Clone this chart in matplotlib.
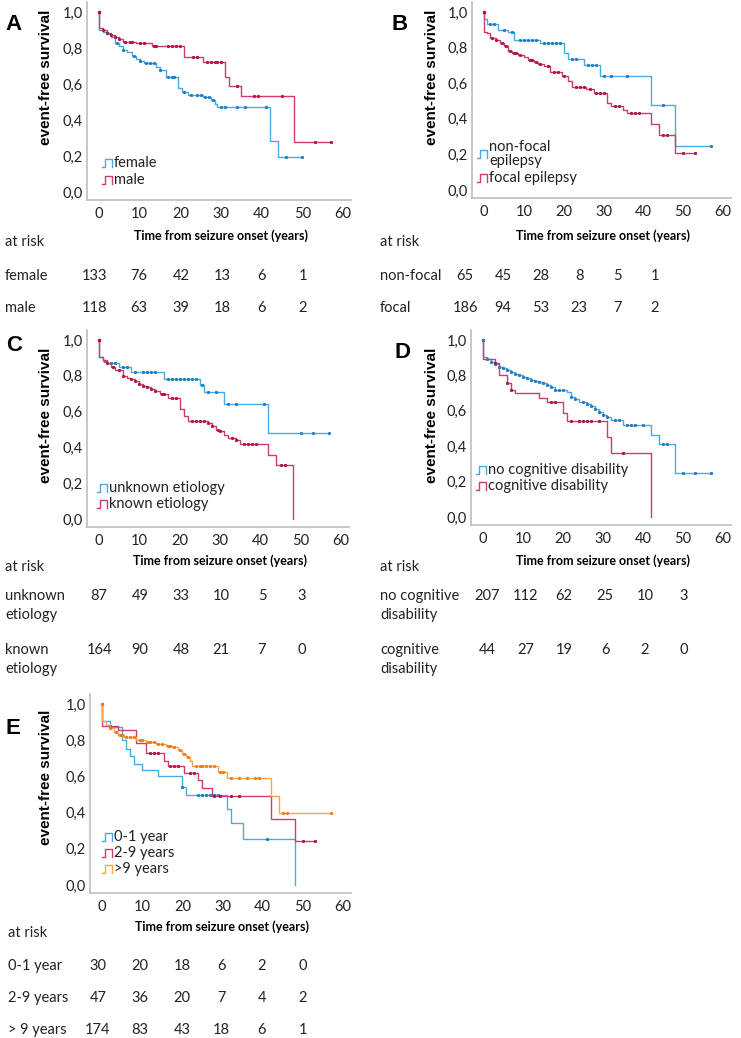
import numpy as np
import matplotlib.pyplot as plt
from matplotlib.lines import Line2D

plt.rcParams['font.family'] = ['Lato', 'DejaVu Sans']

# ---- data ----
xticks = [0, 10, 20, 30, 40, 50, 60]
yticks = [0.0, 0.2, 0.4, 0.6, 0.8, 1.0]
ytick_labels = ['0,0', '0,2', '0,4', '0,6', '0,8', '1,0']

# A: sex
a_female_t = [0, 1, 2, 3, 4, 5, 6, 7, 8, 9, 10, 11, 14, 15, 16.5, 19.5, 20.5, 22, 25.5, 27.5, 28.5, 29, 42, 44]
a_female_s = [0.90, 0.89, 0.875, 0.86, 0.83, 0.81, 0.79, 0.775, 0.755, 0.74, 0.725, 0.715, 0.695, 0.675,
              0.64, 0.58, 0.555, 0.54, 0.525, 0.51, 0.49, 0.47, 0.285, 0.195]
a_female_end = 50
a_female_cens = [4.5, 6, 8.5, 10, 11.5, 12.5, 13.5, 15, 17, 18, 18.5, 21, 22.5, 24, 25, 26, 27, 28, 30, 31,
                 34, 36, 41, 46, 50]
a_male_t = [0, 1, 2, 3, 4, 5, 6, 9, 13, 21, 25.5, 31, 32, 35, 48]
a_male_s = [0.91, 0.90, 0.885, 0.87, 0.86, 0.85, 0.835, 0.825, 0.81, 0.75, 0.72, 0.64, 0.59, 0.535, 0.275]
a_male_end = 57
a_male_cens = [1, 2, 3, 4, 5, 6.5, 7.5, 8, 10, 11, 13.5, 14, 17, 18, 19, 20, 23, 24, 26.5, 27.5, 28.5, 29,
               30, 34, 38, 39, 45, 53, 57]

# B: epilepsy type
b_nonfocal_t = [0, 0.8, 3.5, 6, 7.5, 14, 20, 21, 25, 29, 42, 48]
b_nonfocal_s = [0.96, 0.935, 0.90, 0.885, 0.845, 0.825, 0.77, 0.735, 0.70, 0.64, 0.48, 0.245]
b_nonfocal_end = 57
b_nonfocal_cens = [1.5, 2.5, 5, 7, 9, 10, 11, 12, 13, 15, 16, 17, 18, 19, 22, 23, 26, 27, 28, 30, 32, 36, 45, 57]
b_focal_t = [0, 0.7, 1.5, 3, 4, 5, 6, 7, 8.5, 10, 11, 12.5, 13.5, 15, 16.5, 19.5, 21, 22, 25.5, 27.5, 31, 32,
             35, 36, 42, 44, 48]
b_focal_s = [0.89, 0.88, 0.855, 0.845, 0.825, 0.81, 0.78, 0.77, 0.76, 0.745, 0.73, 0.72, 0.71, 0.695, 0.665,
             0.64, 0.61, 0.58, 0.565, 0.545, 0.49, 0.47, 0.45, 0.43, 0.37, 0.31, 0.21]
b_focal_end = 53
b_focal_cens = [2, 3, 4.5, 5.5, 6.5, 7.5, 8, 9, 11.5, 12, 13, 14, 16, 17.5, 18.5, 20, 23, 24, 25, 26.5, 28, 29,
                30, 33, 34, 37, 38, 39, 45, 46, 50, 53]

# C: etiology
c_unknown_t = [0, 1, 2, 5, 8, 16, 25, 26, 31, 42]
c_unknown_s = [0.905, 0.88, 0.87, 0.85, 0.82, 0.78, 0.75, 0.71, 0.645, 0.48]
c_unknown_end = 57
c_unknown_cens = [1.5, 3, 4, 6, 7, 9, 11, 12, 13, 14, 17, 18, 19, 20, 21, 22, 23, 24, 25.5, 27, 29, 32, 34,
                  41, 50, 53, 57]
c_known_t = [0, 1, 2, 3, 4, 6, 7, 8, 9, 10, 11, 12, 13, 14, 15, 17, 20, 21, 22, 27, 28, 29, 30, 31, 32, 34,
             35, 42, 44, 48]
c_known_s = [0.905, 0.89, 0.87, 0.85, 0.835, 0.80, 0.79, 0.78, 0.77, 0.755, 0.745, 0.735, 0.725, 0.715, 0.70,
             0.675, 0.615, 0.575, 0.55, 0.535, 0.52, 0.50, 0.49, 0.47, 0.455, 0.44, 0.42, 0.36, 0.30, 0.0]
c_known_end = 48
c_known_cens = [2, 3.5, 5, 6, 8, 9, 10, 11, 12, 13, 14, 15.5, 16, 18, 19, 23, 24, 25, 26, 27, 28, 29.5, 30,
                33, 34, 36, 37, 38, 39, 45, 46]

# D: cognitive disability
d_nocog_t = [0, 1, 2, 3, 4, 5, 6, 7, 8, 9, 10, 11, 12, 13, 14, 15, 16, 17, 18, 21, 22, 23, 24, 26, 27, 28,
             29, 30, 31, 32, 35, 42, 44, 48]
d_nocog_s = [0.905, 0.89, 0.875, 0.865, 0.85, 0.84, 0.83, 0.82, 0.81, 0.80, 0.79, 0.785, 0.775, 0.77, 0.76,
             0.755, 0.745, 0.735, 0.72, 0.705, 0.68, 0.665, 0.65, 0.64, 0.625, 0.61, 0.595, 0.575, 0.565,
             0.55, 0.52, 0.465, 0.415, 0.25]
d_nocog_end = 57
d_nocog_cens = [1, 2, 3, 4, 5, 6, 7, 8, 9, 10, 11, 12, 13, 14, 15, 16, 17, 18, 19, 20, 22, 23, 25, 26, 27,
                28, 29, 30, 31, 33, 34, 36, 37, 38, 40, 45, 46, 50, 53, 57]
d_cog_t = [0, 3, 4, 6, 7, 8, 14, 16, 20, 21, 31, 32, 42]
d_cog_s = [0.895, 0.87, 0.805, 0.755, 0.72, 0.70, 0.675, 0.65, 0.585, 0.545, 0.45, 0.36, 0.0]
d_cog_end = 42
d_cog_cens = [3, 6, 7, 17, 18, 22, 24, 25, 26, 27, 29, 35]

# E: age at onset
e_young_t = [0, 2, 5, 6, 7, 8, 10, 14, 20, 21, 31, 32, 35, 48]
e_young_s = [0.905, 0.875, 0.80, 0.75, 0.71, 0.67, 0.635, 0.60, 0.54, 0.50, 0.42, 0.34, 0.255, 0.0]
e_young_end = 48
e_young_cens = [20, 24, 25, 26, 27, 28, 29, 41]
e_mid_t = [0, 4, 8.5, 11, 15.5, 16.5, 20.5, 24, 25, 27.5, 42, 48]
e_mid_s = [0.88, 0.855, 0.785, 0.73, 0.685, 0.655, 0.62, 0.58, 0.535, 0.49, 0.365, 0.245]
e_mid_end = 53
e_mid_cens = [2, 12, 13, 14, 17, 18, 19, 22, 23, 28, 29.5, 32, 34, 50, 53]
e_old_t = [0, 1, 2, 3, 4, 5.5, 8.5, 11, 13.5, 16, 17.5, 19, 20, 21, 22, 22.5, 29, 31, 42, 44]
e_old_s = [0.905, 0.885, 0.865, 0.845, 0.83, 0.815, 0.80, 0.79, 0.78, 0.77, 0.76, 0.745, 0.725, 0.705,
           0.685, 0.66, 0.625, 0.59, 0.49, 0.40]
e_old_end = 57
e_old_cens = [2, 3.5, 4.5, 5, 6, 7, 8, 9.5, 10, 11.5, 12, 13, 14, 15, 16.5, 17, 18, 19.5, 20.5, 21.5, 23.5,
              24.5, 25, 26, 27, 28, 29.5, 30, 32, 34, 36, 38, 39, 45, 46, 57]

# at-risk tables
a_rows = ['female', 'male']
a_risk = [[133, 76, 42, 13, 6, 1], [118, 63, 39, 18, 6, 2]]
b_rows = ['non-focal', 'focal']
b_risk = [[65, 45, 28, 8, 5, 1], [186, 94, 53, 23, 7, 2]]
c_rows = ['unknown\netiology', 'known\netiology']
c_risk = [[87, 49, 33, 10, 5, 3], [164, 90, 48, 21, 7, 0]]
d_rows = ['no cognitive\ndisability', 'cognitive\ndisability']
d_risk = [[207, 112, 62, 25, 10, 3], [44, 27, 19, 6, 2, 0]]
e_rows = ['0-1 year', '2-9 years', '> 9 years']
e_risk = [[30, 20, 18, 6, 2, 0], [47, 36, 20, 7, 4, 2], [174, 83, 43, 18, 6, 1]]

BLUE, BLUE_M = '#4aa9e2', '#1b7cc6'
RED, RED_M = '#cf3d6a', '#b0123f'
ORANGE, ORANGE_M = '#f7a647', '#ee7b12'

W, H = 741, 1038
fig = plt.figure(figsize=(W / 100, H / 100), dpi=100)


def ftext(x, y, s, **kw):
    kw.setdefault('va', 'center')
    return fig.text(x / W, 1 - y / H, s, **kw)


def make_axes(x0, x60, y1, y0):
    # pixel positions of x=0, x=60, y=1, y=0
    xs = (x60 - x0) / 60
    ys = y0 - y1
    left, right = x0 - 3 * xs, x0 + 62 * xs
    top, bottom = y1 - 0.055 * ys, y0 + 0.045 * ys
    ax = fig.add_axes([left / W, 1 - bottom / H, (right - left) / W, (bottom - top) / H])
    ax.set_xlim(-3, 62)
    ax.set_ylim(-0.045, 1.055)
    ax.set_xticks(xticks)
    ax.set_yticks(yticks)
    ax.set_yticklabels(ytick_labels)
    ax.tick_params(length=0, labelsize=10.5, colors='#222222')
    ax.tick_params(axis='y', pad=3)
    ax.tick_params(axis='x', pad=5)
    for sp in ['top', 'right']:
        ax.spines[sp].set_visible(False)
    for sp in ['left', 'bottom']:
        ax.spines[sp].set_color('#bdbdbd')
        ax.spines[sp].set_linewidth(1.2)
    return ax


def km(ax, t, s, end, cens, lc, mc, start_mark=False):
    x = [0] + t + [end]
    y = [1.0] + s + [s[-1]]
    line, = ax.step(x, y, where='post', color=lc, lw=1.0)
    if start_mark:
        line.set_marker('o')
        line.set_markevery([0])
        line.set_markersize(1.6)
        line.set_markeredgecolor(mc)
        line.set_markerfacecolor(mc)
    idx = np.searchsorted(t, cens, side='right') - 1
    cy = np.array(s)[idx]
    ax.plot(cens, cy, ls='none', marker='o', ms=1.7, color=mc, mec=mc, mew=0.6)


def legend_entry(x, y, color, label):
    gx = np.array([0, 3, 3, 10, 10]) + x
    gy = np.array([4, 4, -4, -4, 4]) + y
    fig.add_artist(Line2D(gx / W, 1 - gy / H, transform=fig.transFigure, color=color, lw=1.0))
    ftext(x + 12, y, label, fontsize=10.5, color='#222222', linespacing=1.0)


def ylabel(x, y):
    ftext(x, y, 'event-free survival', rotation=90, ha='center', fontsize=11,
          fontweight='bold', family='Liberation Sans')


def letter(x, y, s):
    ftext(x, y, s, ha='center', fontsize=16, fontweight='bold', family='Liberation Sans')


def xlabel(x, y):
    ftext(x, y, 'Time from seizure onset (years)', ha='center', fontsize=9, fontweight='bold')


def risk_table(x_label, y_head, rows, risk, xs, ys, line2=19):
    ftext(x_label, y_head, 'at risk', fontsize=10.5, color='#222222')
    for name, vals, yy in zip(rows, risk, ys):
        parts = name.split('\n')
        for k, p in enumerate(parts):
            ftext(x_label, yy + k * line2, p, fontsize=10.5, color='#222222')
        for xx, v in zip(xs, vals):
            ftext(xx, yy, str(v), ha='center', fontsize=10.5, color='#222222')


# ---- panel A ----
ax = make_axes(99, 343, 12, 192)
km(ax, a_female_t, a_female_s, a_female_end, a_female_cens, BLUE, BLUE_M)
km(ax, a_male_t, a_male_s, a_male_end, a_male_cens, RED, RED_M, start_mark=True)
letter(13, 24, 'A')
ylabel(46, 77)
legend_entry(102, 163, BLUE, 'female')
legend_entry(102, 180, RED, 'male')
xlabel(221, 236)
risk_table(5, 242, a_rows, a_risk, [95, 139, 181, 222, 262, 303], [276, 308])

# ---- panel B ----
ax = make_axes(484, 723, 12, 190)
km(ax, b_nonfocal_t, b_nonfocal_s, b_nonfocal_end, b_nonfocal_cens, BLUE, BLUE_M)
km(ax, b_focal_t, b_focal_s, b_focal_end, b_focal_cens, RED, RED_M, start_mark=True)
letter(400, 24, 'B')
ylabel(432, 77)
legend_entry(477, 154, BLUE, 'non-focal\nepilepsy')
legend_entry(477, 178, RED, 'focal epilepsy')
xlabel(603, 236)
risk_table(380, 242, b_rows, b_risk, [465, 503, 541, 579, 617, 655], [276, 308])

# ---- panel C ----
ax = make_axes(99, 341, 340, 519)
km(ax, c_unknown_t, c_unknown_s, c_unknown_end, c_unknown_cens, BLUE, BLUE_M)
km(ax, c_known_t, c_known_s, c_known_end, c_known_cens, RED, RED_M, start_mark=True)
letter(14, 346, 'C')
ylabel(46, 415)
legend_entry(97, 488, BLUE, 'unknown etiology')
legend_entry(97, 504, RED, 'known etiology')
xlabel(220, 561)
risk_table(5, 567, c_rows, c_risk, [99, 140, 181, 221, 262, 302], [596, 650])

# ---- panel D ----
ax = make_axes(483, 723, 340, 517)
km(ax, d_nocog_t, d_nocog_s, d_nocog_end, d_nocog_cens, BLUE, BLUE_M, start_mark=True)
km(ax, d_cog_t, d_cog_s, d_cog_end, d_cog_cens, RED, RED_M)
letter(403, 352, 'D')
ylabel(432, 415)
legend_entry(476, 470, BLUE, 'no cognitive disability')
legend_entry(476, 486, RED, 'cognitive disability')
xlabel(603, 561)
risk_table(380, 567, d_rows, d_risk, [487, 526, 564, 605, 645, 684], [596, 650])

# ---- panel E ----
ax = make_axes(102, 343, 704, 885)
km(ax, e_young_t, e_young_s, e_young_end, e_young_cens, BLUE, BLUE_M)
km(ax, e_mid_t, e_mid_s, e_mid_end, e_mid_cens, RED, RED_M)
km(ax, e_old_t, e_old_s, e_old_end, e_old_cens, ORANGE, ORANGE_M, start_mark=True)
letter(13, 728, 'E')
ylabel(46, 777)
legend_entry(102, 837, BLUE, '0-1 year')
legend_entry(102, 853, RED, '2-9 years')
legend_entry(102, 869, ORANGE, '>9 years')
xlabel(222, 927)
risk_table(8, 933, e_rows, e_risk, [98, 140, 182, 221, 262, 303], [966, 998, 1030])

fig.savefig('out.png', dpi=100)
